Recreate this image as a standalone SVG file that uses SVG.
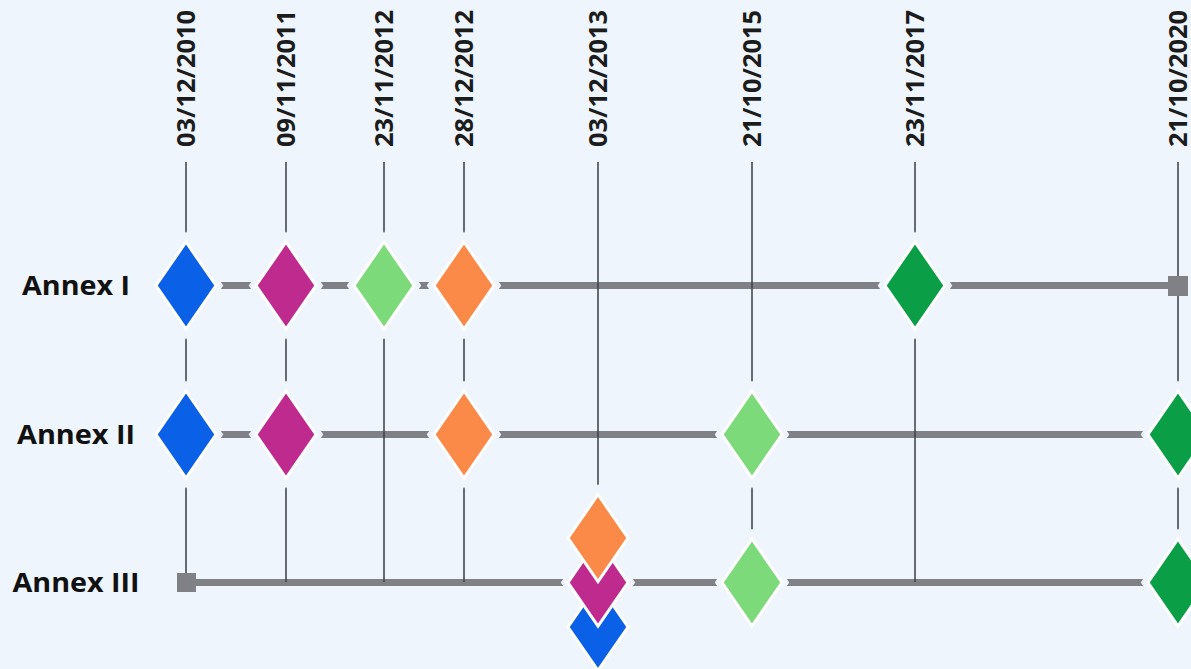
<svg xmlns="http://www.w3.org/2000/svg" width="1191" height="669" viewBox="0 0 1191 669">
<style>
.bg{fill:#eef5fc}
.date{font-family:"Open Sans","DejaVu Sans",sans-serif;font-weight:bold;font-size:25px;fill:#1c1c1c}
.row{font-family:"Open Sans","DejaVu Sans",sans-serif;font-weight:bold;font-size:26px;fill:#111;text-anchor:middle}
.track{stroke:#808087;stroke-width:7;fill:none}
.tick{stroke:#3c3c46;stroke-width:1.5;fill:none}
.halo{fill:#eef5fc;stroke:#eef5fc;stroke-width:12;stroke-linejoin:miter;stroke-miterlimit:10}
.dia{stroke:#ffffff;stroke-width:3;stroke-linejoin:miter}
.blue{fill:#0a60e6}
.pink{fill:#bf2a8f}
.lgreen{fill:#7cda7a}
.orange{fill:#fb8a48}
.dgreen{fill:#0a9e46}
.sq{fill:#808087}
</style>
<defs>
<polygon id="d" points="0,-43.5 30,0 0,43.5 -30,0"/>
</defs>
<rect class="bg" x="0" y="0" width="1191" height="669"/>

<g id="labels">
<text class="date" transform="translate(195,147) rotate(-90)" textLength="137" lengthAdjust="spacingAndGlyphs">03/12/2010</text>
<text class="date" transform="translate(295,147) rotate(-90)" textLength="137" lengthAdjust="spacingAndGlyphs">09/11/2011</text>
<text class="date" transform="translate(393,147) rotate(-90)" textLength="137" lengthAdjust="spacingAndGlyphs">23/11/2012</text>
<text class="date" transform="translate(473,147) rotate(-90)" textLength="137" lengthAdjust="spacingAndGlyphs">28/12/2012</text>
<text class="date" transform="translate(607,147) rotate(-90)" textLength="137" lengthAdjust="spacingAndGlyphs">03/12/2013</text>
<text class="date" transform="translate(761,147) rotate(-90)" textLength="137" lengthAdjust="spacingAndGlyphs">21/10/2015</text>
<text class="date" transform="translate(924,147) rotate(-90)" textLength="137" lengthAdjust="spacingAndGlyphs">23/11/2017</text>
<text class="date" transform="translate(1187,147) rotate(-90)" textLength="137" lengthAdjust="spacingAndGlyphs">21/10/2020</text>
<text class="row" x="76" y="295" textLength="108" lengthAdjust="spacingAndGlyphs">Annex I</text>
<text class="row" x="76" y="444" textLength="118" lengthAdjust="spacingAndGlyphs">Annex II</text>
<text class="row" x="76" y="592" textLength="127" lengthAdjust="spacingAndGlyphs">Annex III</text>
</g>

<g id="connectors">
<line class="track" x1="186" y1="285.5" x2="1178" y2="285.5"/>
<line class="track" x1="186" y1="434.5" x2="1178" y2="434.5"/>
<line class="track" x1="186" y1="582.5" x2="1178" y2="582.5"/>
<line class="tick" x1="186" y1="162" x2="186" y2="582"/>
<line class="tick" x1="286" y1="162" x2="286" y2="582"/>
<line class="tick" x1="384" y1="162" x2="384" y2="582"/>
<line class="tick" x1="464" y1="162" x2="464" y2="582"/>
<line class="tick" x1="598" y1="162" x2="598" y2="500"/>
<line class="tick" x1="752" y1="162" x2="752" y2="582"/>
<line class="tick" x1="915" y1="162" x2="915" y2="582"/>
<line class="tick" x1="1178" y1="162" x2="1178" y2="582"/>
</g>

<g id="halos">
<use href="#d" class="halo" x="186" y="285.5"/>
<use href="#d" class="halo" x="286" y="285.5"/>
<use href="#d" class="halo" x="384" y="285.5"/>
<use href="#d" class="halo" x="464" y="285.5"/>
<use href="#d" class="halo" x="915" y="285.5"/>
<use href="#d" class="halo" x="186" y="434.5"/>
<use href="#d" class="halo" x="286" y="434.5"/>
<use href="#d" class="halo" x="464" y="434.5"/>
<use href="#d" class="halo" x="752" y="434.5"/>
<use href="#d" class="halo" x="1178" y="434.5"/>
<use href="#d" class="halo" x="598" y="538"/>
<use href="#d" class="halo" x="598" y="582.5"/>
<use href="#d" class="halo" x="598" y="627"/>
<use href="#d" class="halo" x="752" y="582.5"/>
<use href="#d" class="halo" x="1178" y="582.5"/>
</g>

<g id="annex1">
<use href="#d" class="dia blue" x="186" y="285.5"/>
<use href="#d" class="dia pink" x="286" y="285.5"/>
<use href="#d" class="dia lgreen" x="384" y="285.5"/>
<use href="#d" class="dia orange" x="464" y="285.5"/>
<use href="#d" class="dia dgreen" x="915" y="285.5"/>
<rect class="sq" x="1168" y="276" width="20" height="20"/>
</g>

<g id="annex2">
<use href="#d" class="dia blue" x="186" y="434.5"/>
<use href="#d" class="dia pink" x="286" y="434.5"/>
<use href="#d" class="dia orange" x="464" y="434.5"/>
<use href="#d" class="dia lgreen" x="752" y="434.5"/>
<use href="#d" class="dia dgreen" x="1178" y="434.5"/>
</g>

<g id="annex3">
<rect class="sq" x="177" y="573" width="19" height="19"/>
<use href="#d" class="dia blue" x="598" y="627"/>
<use href="#d" class="dia pink" x="598" y="582.5"/>
<use href="#d" class="dia orange" x="598" y="538"/>
<use href="#d" class="dia lgreen" x="752" y="582.5"/>
<use href="#d" class="dia dgreen" x="1178" y="582.5"/>
</g>
</svg>
